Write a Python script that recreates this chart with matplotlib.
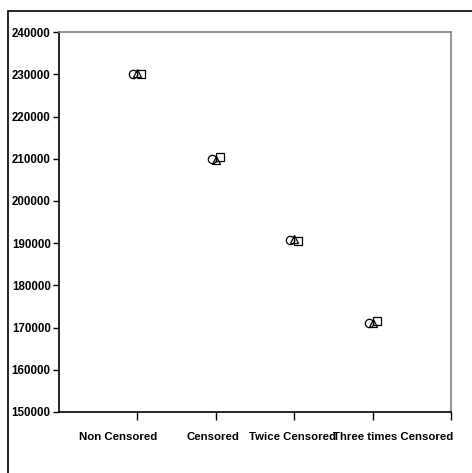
import matplotlib.pyplot as plt
from matplotlib.patches import Rectangle
import numpy as np

categories = ['Non Censored', 'Censored', 'Twice Censored', 'Three times Censored']
circle_vals = [230000, 210000, 190700, 171000]
triangle_vals = [230400, 209800, 191000, 171200]
square_vals = [230200, 210500, 190500, 171500]
y_ticks = [150000, 160000, 170000, 180000, 190000, 200000, 210000, 220000, 230000, 240000]

plt.rcParams['font.family'] = ['Liberation Sans', 'DejaVu Sans']

fig = plt.figure(figsize=(4.72, 4.73), dpi=100)
ax = fig.add_axes([0.125, 0.129, 0.8305, 0.803])

# outer chart frame
fig.patches.append(Rectangle((8 / 472, -0.1), 1.2, 1 - 11 / 473 + 0.1,
                             transform=fig.transFigure, fill=False,
                             edgecolor='black', linewidth=1.2))

x = np.arange(1, len(categories) + 1)
off = 0.05
mk = dict(markerfacecolor='none', markeredgecolor='black',
          markersize=6, markeredgewidth=0.9)
ax.plot(x - off, circle_vals, marker='o', linestyle='none', **mk)
ax.errorbar(x, triangle_vals, yerr=600, fmt='^', ecolor='black', elinewidth=0.8,
            capsize=0, **mk)
ax.plot(x + off, square_vals, marker='s', linestyle='none', **mk)

ax.set_xlim(0, 5)
ax.set_ylim(150000, 240000)
ax.set_yticks(y_ticks)
ax.set_yticklabels([str(v) for v in y_ticks], fontsize=8.3, fontweight='bold')
ax.set_xticks([1, 2, 3, 4, 5])
ax.set_xticklabels([])
ax.tick_params(axis='both', direction='out', length=4, width=1, color='black', pad=2)
ax.tick_params(axis='x', length=6)

for side in ['top', 'right']:
    ax.spines[side].set_color('#808080')
    ax.spines[side].set_linewidth(1.2)
for side in ['left', 'bottom']:
    ax.spines[side].set_color('black')
    ax.spines[side].set_linewidth(1.2)

label_pos = [0.75, 1.96, 2.98, 4.26]
for lx, name in zip(label_pos, categories):
    ax.text(lx, -0.065, name, transform=ax.get_xaxis_transform(), ha='center',
            va='center', fontsize=8.2, fontweight='bold')

fig.savefig('out.png', dpi=100)
